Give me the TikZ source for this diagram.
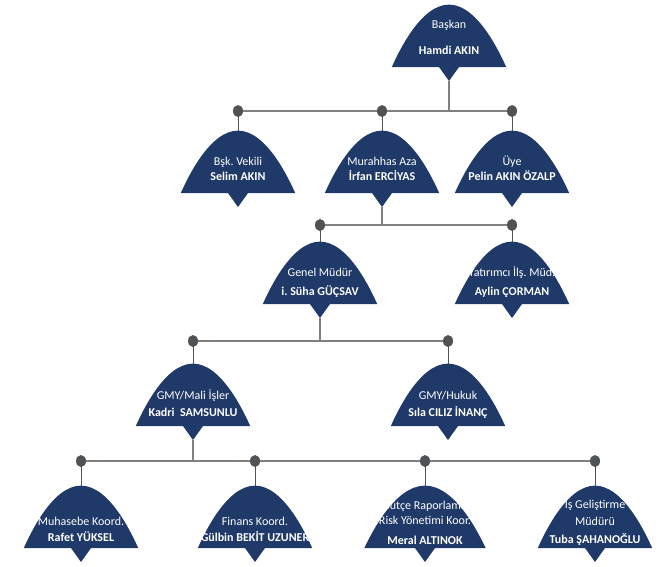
\documentclass[tikz,border=0pt]{standalone}
\usepackage{fontspec}
\setmainfont{Carlito}
\usepackage{tikz}
\usetikzlibrary{
  backgrounds
}
\definecolor{DomeBlue}{RGB}{31, 57, 105}
\definecolor{LineGray}{RGB}{128, 128, 128}
\definecolor{DotGray}{RGB}{80, 83, 86}
\tikzset{
    dome/.style={text=white, align=center, inner sep=0pt, minimum width=114pt,
        text height={62pt-#1}, text depth=#1, anchor=south,
        font=\fontsize{12}{15}\selectfont},
    dome/.default=12pt,
    conn/.style={LineGray, line width=1.2pt},
    stub/.style={DotGray, line width=0.9pt},
}

\begin{document}
\begin{tikzpicture}[x=1pt, y=-1pt]
    \useasboundingbox (0,0) rectangle (668,566);

    \node[dome] (baskan) at (449,67) {Başkan\\[11pt]\textbf{Hamdi AKIN}};

    \node[dome] (vekil) at (238,193) {Bşk.\ Vekili\\\textbf{Selim AKIN}};
    \node[dome] (murahhas) at (382,193) {Murahhas Aza\\\textbf{İrfan ERCİYAS}};
    \node[dome] (uye) at (512,193) {Üye\\\textbf{Pelin AKIN ÖZALP}};

    \node[dome=8pt] (genel) at (320,304) {Genel Müdür\\[4pt]\textbf{i.\ Süha GÜÇSAV}};
    \node[dome=8pt] (yatirimci) at (512,304) {Yatırımcı İlş.\ Müd.\\[4pt]\textbf{Aylin ÇORMAN}};

    \node[dome=9pt] (mali) at (193,426) {GMY/Mali İşler\\[2pt]\textbf{Kadri\ \ SAMSUNLU}};
    \node[dome=9pt] (hukuk) at (448,426) {GMY/Hukuk\\[2pt]\textbf{Sıla CILIZ İNANÇ}};

    \node[dome=6pt] (muhasebe) at (81,548) {Muhasebe Koord.\\[1pt]\textbf{Rafet YÜKSEL}};
    \node[dome=6pt] (finans) at (255,548) {Finans Koord.\\[1pt]\textbf{Gülbin BEKİT UZUNER}};
    \node[dome=3pt, minimum width=121pt] (butce) at (425,548) {Bütçe Raporlama\\Risk Yönetimi Koor.\\[5pt]\textbf{Meral ALTINOK}};
    \node[dome=4pt] (isgel) at (595,548) {İş Geliştirme\\[2pt]Müdürü\\[3pt]\textbf{Tuba ŞAHANOĞLU}};

    \begin{scope}[on background layer]
        \foreach \n in {baskan, vekil, murahhas, uye, genel, yatirimci, mali, hukuk,
                        muhasebe, finans, butce, isgel} {
            \fill[DomeBlue] (\n.south west) parabola bend (\n.north) (\n.south east) -- cycle;
            \fill[DomeBlue] ([xshift=-10pt]\n.south) -- ([yshift=-14pt]\n.south)
                -- ([xshift=10pt]\n.south) -- cycle;
        }
    \end{scope}

    \coordinate (j1) at (449,111);
    \coordinate (j2) at (382,225);
    \coordinate (j3) at (320,341);
    \coordinate (j4) at (193,461);

    \draw[conn] ([yshift=-14pt]baskan.south) -- (j1);
    \draw[conn] ([yshift=-14pt]murahhas.south) -- (j2);
    \draw[conn] ([yshift=-14pt]genel.south) -- (j3);
    \draw[conn] ([yshift=-14pt]mali.south) -- (j4);

    \draw[conn] (vekil.north |- j1) -- (uye.north |- j1);
    \draw[conn] (genel.north |- j2) -- (yatirimci.north |- j2);
    \draw[conn] (mali.north |- j3) -- (hukuk.north |- j3);
    \draw[conn] (muhasebe.north |- j4) -- (isgel.north |- j4);

    \foreach \c/\j in {vekil/j1, murahhas/j1, uye/j1, genel/j2, yatirimci/j2,
                       mali/j3, hukuk/j3, muhasebe/j4, finans/j4, butce/j4, isgel/j4} {
        \draw[stub] (\c.north |- \j) -- (\c.north);
        \fill[DotGray] (\c.north |- \j) ellipse (5pt and 6pt);
    }
\end{tikzpicture}
\end{document}
